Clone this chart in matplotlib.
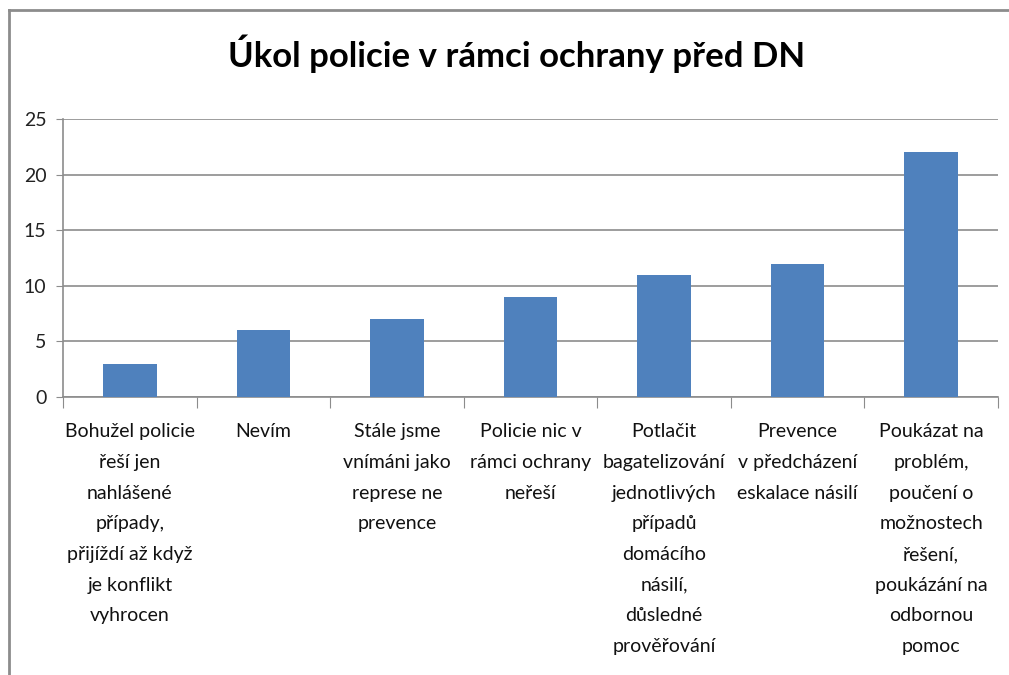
import matplotlib
matplotlib.use("Agg")
import matplotlib.pyplot as plt
from matplotlib.lines import Line2D

categories = [
    "Bohužel policie\nřeší jen\nnahlášené\npřípady,\npřijíždí až když\nje konflikt\nvyhrocen",
    "Nevím",
    "Stále jsme\nvnímáni jako\nreprese ne\nprevence",
    "Policie nic v\nrámci ochrany\nneřeší",
    "Potlačit\nbagatelizování\njednotlivých\npřípadů\ndomácího\nnásilí,\ndůsledné\nprověřování",
    "Prevence\nv předcházení\neskalace násilí",
    "Poukázat na\nproblém,\npoučení o\nmožnostech\nřešení,\npoukázání na\nodbornou\npomoc",
]
values = [3, 6, 7, 9, 11, 12, 22]
yticks = [0, 5, 10, 15, 20, 25]
title = "Úkol policie v rámci ochrany před DN"

FONT = ["Lato", "DejaVu Sans"]
plt.rcParams["font.family"] = FONT

W, H = 1009, 675
fig = plt.figure(figsize=(W / 100, H / 100), dpi=100)
ax = fig.add_axes([63 / W, 1 - 397 / H, (998 - 63) / W, (397 - 119) / H])

x = list(range(len(values)))
ax.bar(x, values, width=0.4, color="#4F81BD", zorder=3)
ax.set_xlim(-0.5, len(values) - 0.5)
ax.set_ylim(0, 25)
ax.set_yticks(yticks)
ax.set_yticklabels([str(t) for t in yticks], fontsize=14, color="#222222")
ax.yaxis.grid(True, color="#8C8C8C", linewidth=1.2, zorder=0)
ax.set_axisbelow(True)

for s in ["top", "right"]:
    ax.spines[s].set_visible(False)
ax.spines["left"].set_color("#8C8C8C")
ax.spines["bottom"].set_color("#8C8C8C")
ax.spines["left"].set_linewidth(1.2)
ax.spines["bottom"].set_linewidth(1.2)

ax.tick_params(axis="y", length=5, color="#8C8C8C", pad=7)
ax.set_xticks([i - 0.5 for i in range(len(values) + 1)])
ax.set_xticklabels([])
ax.tick_params(axis="x", length=8, color="#8C8C8C", direction="out")

for i, lab in enumerate(categories):
    ax.text(i, -2.35, lab, ha="center", va="top", fontsize=14,
            linespacing=1.98, color="#111111", transform=ax.transData,
            clip_on=False)

fig.text(517 / W, 1 - 67 / H, title, ha="center", va="baseline",
         fontsize=25, fontweight="bold", color="black")

# chart frame
fig.add_artist(Line2D([9 / W, 9 / W], [0, 1 - 10 / H], transform=fig.transFigure,
                      color="#8C8C8C", linewidth=2))
fig.add_artist(Line2D([9 / W, 1], [1 - 10 / H, 1 - 10 / H], transform=fig.transFigure,
                      color="#8C8C8C", linewidth=2))

fig.savefig("out.png", dpi=100)
